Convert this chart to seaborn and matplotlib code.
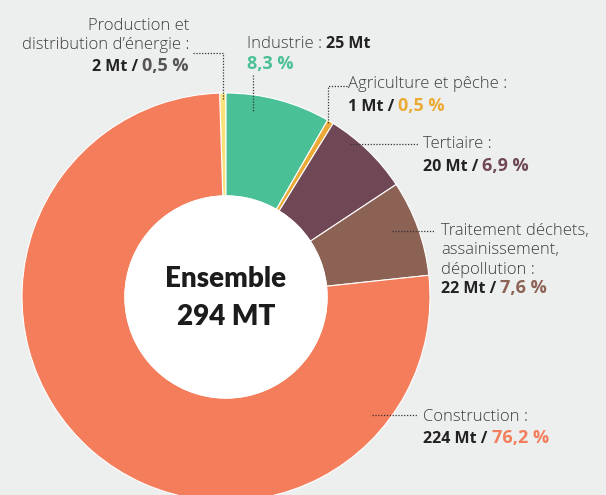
import matplotlib
matplotlib.use("Agg")
import matplotlib.pyplot as plt
import seaborn as sns

# Waste production by economic sector (Mt and share of total)
sectors = ["Production et distribution d’énergie", "Industrie", "Agriculture et pêche",
           "Tertiaire", "Traitement déchets, assainissement, dépollution", "Construction"]
tonnes_mt = [2, 25, 1, 20, 22, 224]
shares_pct = [0.5, 8.3, 0.5, 6.9, 7.6, 76.2]
total_label = ["Ensemble", "294 MT"]

palette = ["#f7e27a", "#4ac096", "#ebaa35", "#6f4755", "#8b6254", "#f47d5b"]
pct_colors = ["#555555", "#4ac096", "#ebaa35", "#6f4755", "#8b6254", "#f47d5b"]

BG = "#edefee"
sns.set_theme(style="white", rc={"axes.facecolor": BG, "figure.facecolor": BG})
plt.rcParams["font.family"] = ["Open Sans", "DejaVu Sans"]

W, H = 606, 495
fig = plt.figure(figsize=(W / 100, H / 100), dpi=100)
ax = fig.add_axes([0, 0, 1, 1])


def Y(y):
    return H - y


# Donut
cx, cy, r_out, r_in = 226, Y(297), 204, 101
start = 90 + shares_pct[0] / sum(shares_pct) * 360
ax.pie(shares_pct, colors=palette, startangle=start, counterclock=False,
       radius=r_out, center=(cx, cy), frame=True,
       wedgeprops=dict(width=r_out - r_in, edgecolor="white", linewidth=0.8))
ax.add_patch(plt.Circle((cx, cy), r_in, color="white", zorder=3))
ax.set_xlim(0, W)
ax.set_ylim(0, H)
ax.set_aspect("equal")
ax.set_axis_off()

CENTER = dict(ha="center", va="baseline", fontsize=20, fontweight="heavy",
              color="#1c1c1c", zorder=4, family=["Lato", "DejaVu Sans"])
ax.text(cx, Y(287), total_label[0], **CENTER)
ax.text(cx, Y(325), total_label[1], **CENTER)

LBL = dict(fontsize=12, color="#3e3e3e", fontweight="light")
NUM = dict(fontsize=11.5, fontweight="bold", color="#222222")
PCT = dict(fontsize=13, fontweight="bold")

fig.canvas.draw()
renderer = fig.canvas.get_renderer()


def width_of(s, props):
    t = ax.text(0, 0, s, **props)
    w = t.get_window_extent(renderer).width
    t.remove()
    return w


def run(x, y, parts, ha="left"):
    widths = [width_of(s, p) for s, p in parts]
    if ha == "right":
        x = x - sum(widths)
    for (s, p), w in zip(parts, widths):
        ax.text(x, Y(y), s, ha="left", va="baseline", **p)
        x += w


def pct_text(i):
    return f"{shares_pct[i]:.1f}".replace(".", ",") + " %"


def value_line(x, y, i, ha="left"):
    run(x, y, [(f"{tonnes_mt[i]} Mt / ", NUM),
               (pct_text(i), dict(PCT, color=pct_colors[i]))], ha=ha)


def leader(xs, ys):
    ax.plot(xs, [Y(v) for v in ys], color="#333333", lw=0.9,
            linestyle=(0, (1, 1.3)), zorder=5, solid_capstyle="butt")


# Production et distribution d'énergie
ax.text(189, Y(30), "Production et", ha="right", va="baseline", **LBL)
ax.text(190, Y(49), "distribution d’énergie :", ha="right", va="baseline", **LBL)
value_line(189, 71, 0, ha="right")
leader([193, 223, 223], [53, 53, 99])

# Industrie
run(247, 48, [("Industrie : ", LBL), (f"{tonnes_mt[1]} Mt", NUM)])
ax.text(247, Y(69), pct_text(1), ha="left", va="baseline",
        **dict(PCT, color=pct_colors[1]))
leader([253, 253], [75, 111])

# Agriculture et pêche
ax.text(348, Y(88), "Agriculture et pêche :", ha="left", va="baseline", **LBL)
value_line(348, 111, 2)
leader([347, 328, 328], [86, 86, 123])

# Tertiaire
ax.text(423, Y(148), "Tertiaire :", ha="left", va="baseline", **LBL)
value_line(423, 171, 3)
leader([350, 419], [144, 144])

# Traitement déchets
for k, line in enumerate(["Traitement déchets,", "assainissement,", "dépollution :"]):
    ax.text(441, Y(235 + 19.3 * k), line, ha="left", va="baseline", **LBL)
value_line(441, 293, 4)
leader([392, 435], [231, 231])

# Construction
ax.text(423, Y(421), "Construction :", ha="left", va="baseline", **LBL)
value_line(423, 443, 5)
leader([372, 417], [415, 415])

fig.savefig("out.png", dpi=100, facecolor=BG)
